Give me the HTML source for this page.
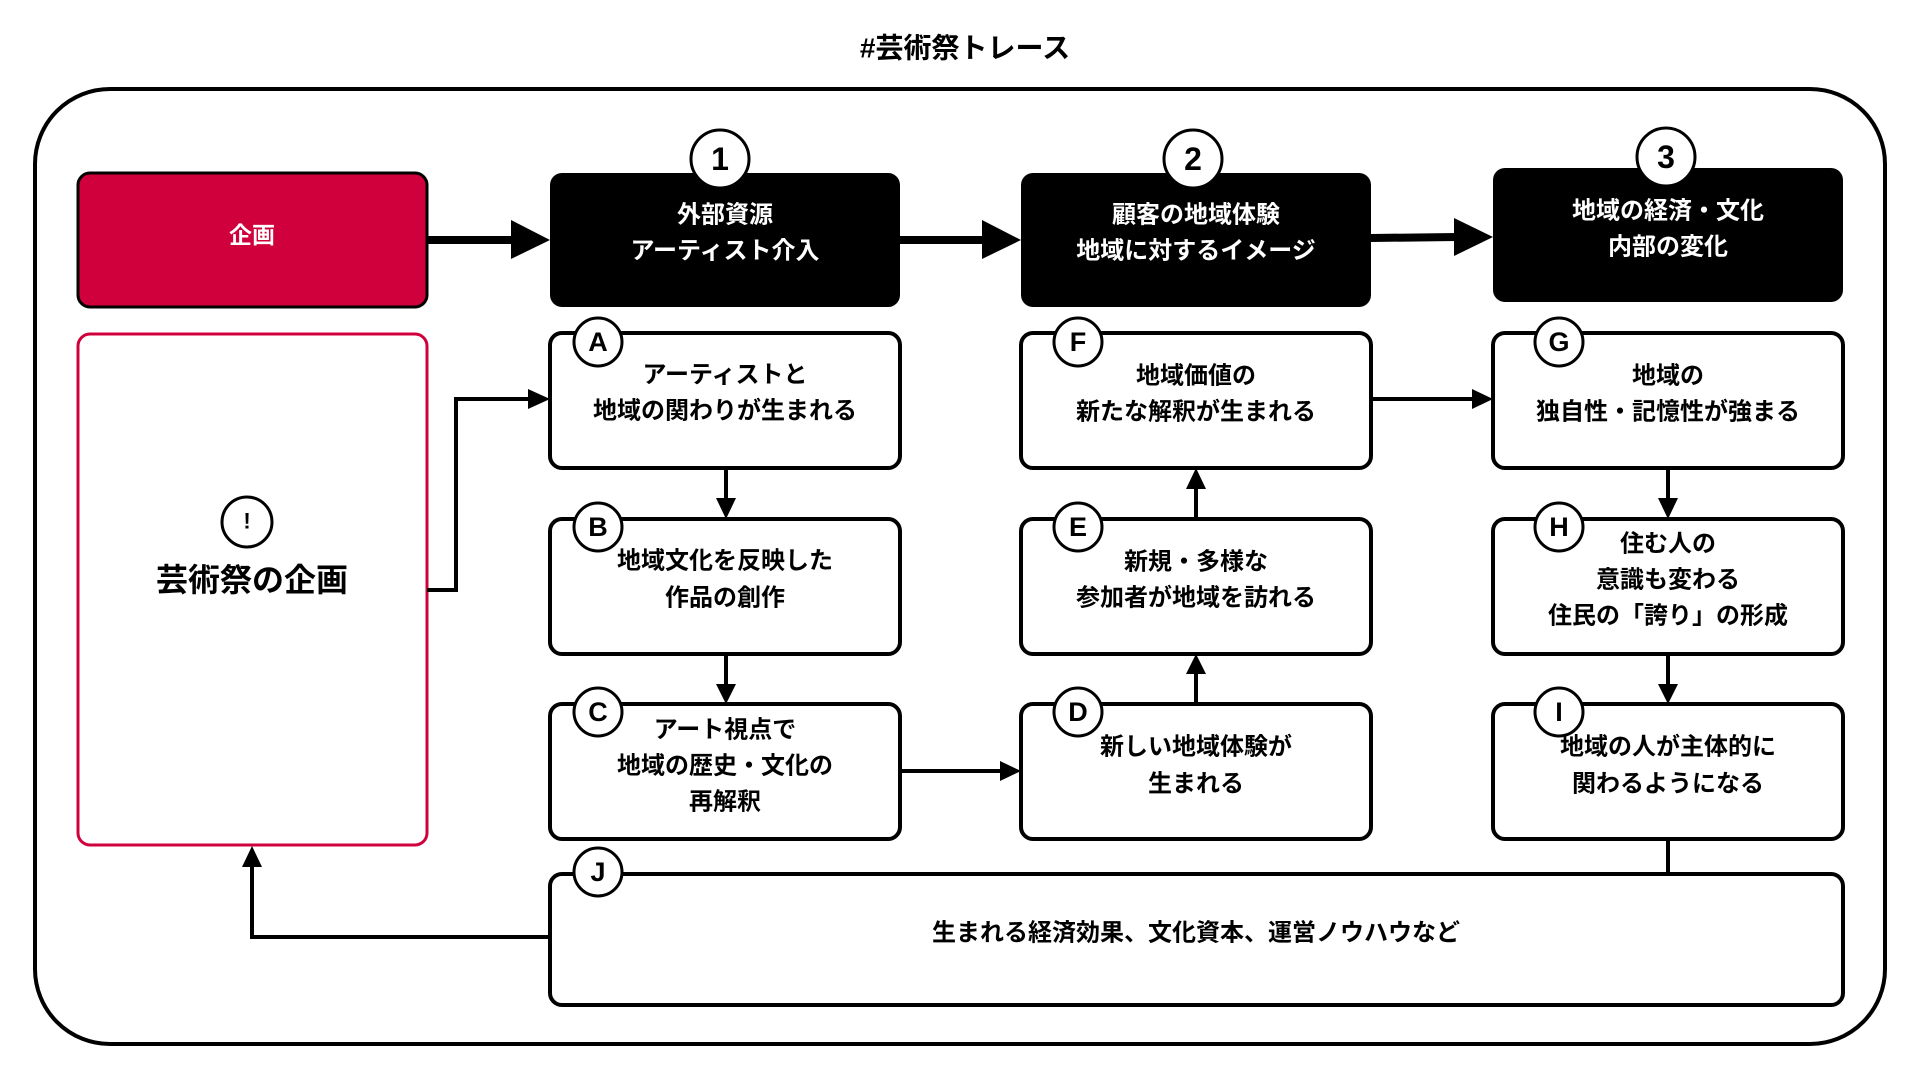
<!DOCTYPE html>
<html><head><meta charset="utf-8"><style>
html,body{margin:0;padding:0;background:#fff;width:1920px;height:1080px;overflow:hidden}
svg text{font-family:"Liberation Sans","Noto Sans CJK JP",sans-serif;font-weight:bold;text-anchor:middle;dominant-baseline:central}
</style></head><body>
<svg width="1920" height="1080" viewBox="0 0 1920 1080" xmlns="http://www.w3.org/2000/svg">
<text x="965" y="48" font-size="28">#芸術祭トレース</text>
<rect x="35" y="89" width="1850" height="955" rx="75" fill="none" stroke="#000" stroke-width="4"/>

<rect x="78" y="173" width="349" height="134" rx="12" fill="#d0003c" stroke="#000" stroke-width="3"/>
<text x="252" y="235" font-size="23" fill="#fff">企画</text>
<rect x="550" y="173" width="350" height="134" rx="12" fill="#000"/>
<text x="725" y="215" font-size="24" fill="#fff">外部資源</text>
<text x="725" y="251" font-size="24" fill="#fff">アーティスト介入</text>
<rect x="1021" y="173" width="350" height="134" rx="12" fill="#000"/>
<text x="1196" y="215" font-size="24" fill="#fff">顧客の地域体験</text>
<text x="1196" y="251" font-size="24" fill="#fff">地域に対するイメージ</text>
<rect x="1493" y="168" width="350" height="134" rx="12" fill="#000"/>
<text x="1668" y="211" font-size="24" fill="#fff">地域の経済・文化</text>
<text x="1668" y="247" font-size="24" fill="#fff">内部の変化</text>
<g fill="#fff" stroke="#000" stroke-width="3">
<circle cx="720" cy="159" r="29"/><circle cx="1193" cy="159" r="29"/><circle cx="1666" cy="157" r="29"/>
</g>
<text x="720" y="159" font-size="32">1</text>
<text x="1193" y="159" font-size="32">2</text>
<text x="1666" y="157" font-size="32">3</text>

<line x1="427" y1="240" x2="515" y2="240" stroke="#000" stroke-width="8"/>
<path d="M511,220 L550,240 L511,259 z"/>
<line x1="900" y1="240" x2="985" y2="240" stroke="#000" stroke-width="8"/>
<path d="M982,220 L1021,240 L982,259 z"/>
<line x1="1371" y1="238" x2="1457" y2="237" stroke="#000" stroke-width="8"/>
<path d="M1454,218 L1493,237 L1454,256 z"/>

<rect x="78" y="334" width="349" height="511" rx="12" fill="#fff" stroke="#d0003c" stroke-width="3"/>
<circle cx="247" cy="522" r="25" fill="#fff" stroke="#000" stroke-width="3"/>
<text x="247" y="521" font-size="22" font-weight="normal">!</text>
<text x="252" y="580" font-size="32">芸術祭の企画</text>

<g fill="#fff" stroke="#000" stroke-width="4">
<rect x="550" y="333" width="350" height="135" rx="12"/>
<rect x="550" y="519" width="350" height="135" rx="12"/>
<rect x="550" y="704" width="350" height="135" rx="12"/>
<rect x="1021" y="704" width="350" height="135" rx="12"/>
<rect x="1021" y="519" width="350" height="135" rx="12"/>
<rect x="1021" y="333" width="350" height="135" rx="12"/>
<rect x="1493" y="333" width="350" height="135" rx="12"/>
<rect x="1493" y="519" width="350" height="135" rx="12"/>
<rect x="1493" y="704" width="350" height="135" rx="12"/>
<rect x="550" y="874" width="1293" height="131" rx="12"/>
</g>
<g font-size="24">
<text x="725" y="375">アーティストと</text><text x="725" y="411">地域の関わりが生まれる</text>
<text x="725" y="561">地域文化を反映した</text><text x="725" y="598">作品の創作</text>
<text x="725" y="730">アート視点で</text><text x="725" y="766">地域の歴史・文化の</text><text x="725" y="802">再解釈</text>
<text x="1196" y="747">新しい地域体験が</text><text x="1196" y="784">生まれる</text>
<text x="1196" y="562">新規・多様な</text><text x="1196" y="598">参加者が地域を訪れる</text>
<text x="1196" y="376">地域価値の</text><text x="1196" y="412">新たな解釈が生まれる</text>
<text x="1668" y="376">地域の</text><text x="1668" y="412">独自性・記憶性が強まる</text>
<text x="1668" y="544">住む人の</text><text x="1668" y="580">意識も変わる</text><text x="1668" y="616">住民の「誇り」の形成</text>
<text x="1668" y="747">地域の人が主体的に</text><text x="1668" y="784">関わるようになる</text>
<text x="1196" y="933">生まれる経済効果、文化資本、運営ノウハウなど</text>
</g>
<g fill="#fff" stroke="#000" stroke-width="3">
<circle cx="598" cy="342" r="24"/><circle cx="598" cy="527" r="24"/><circle cx="598" cy="712" r="24"/>
<circle cx="1078" cy="712" r="24"/><circle cx="1078" cy="527" r="24"/><circle cx="1078" cy="342" r="24"/>
<circle cx="1559" cy="342" r="24"/><circle cx="1559" cy="527" r="24"/><circle cx="1559" cy="712" r="24"/>
<circle cx="598" cy="872" r="24"/>
</g>
<g font-size="27" font-weight="normal">
<text x="598" y="342">A</text><text x="598" y="527">B</text><text x="598" y="712">C</text>
<text x="1078" y="712">D</text><text x="1078" y="527">E</text><text x="1078" y="342">F</text>
<text x="1559" y="342">G</text><text x="1559" y="527">H</text><text x="1559" y="712">I</text>
<text x="598" y="872">J</text>
</g>

<g stroke="#000" stroke-width="4" fill="none">
<polyline points="427,590 456,590 456,399 530,399"/>
<line x1="726" y1="468" x2="726" y2="500"/>
<line x1="726" y1="654" x2="726" y2="686"/>
<line x1="900" y1="771" x2="1004" y2="771"/>
<line x1="1196" y1="704" x2="1196" y2="672"/>
<line x1="1196" y1="519" x2="1196" y2="487"/>
<line x1="1371" y1="399" x2="1476" y2="399"/>
<line x1="1668" y1="468" x2="1668" y2="500"/>
<line x1="1668" y1="654" x2="1668" y2="686"/>
<line x1="1668" y1="839" x2="1668" y2="874"/>
<polyline points="550,937 252,937 252,866"/>
</g>
<g fill="#000">
<path d="M528,389 L550,399 L528,409 z"/>
<path d="M716,498 L726,519 L736,498 z"/>
<path d="M716,684 L726,704 L736,684 z"/>
<path d="M1000,761 L1021,771 L1000,781 z"/>
<path d="M1186,674 L1196,654 L1206,674 z"/>
<path d="M1186,489 L1196,468 L1206,489 z"/>
<path d="M1472,389 L1493,399 L1472,409 z"/>
<path d="M1658,498 L1668,519 L1678,498 z"/>
<path d="M1658,684 L1668,704 L1678,684 z"/>
<path d="M242,867 L252,846 L262,867 z"/>
</g>
</svg>
</body></html>
